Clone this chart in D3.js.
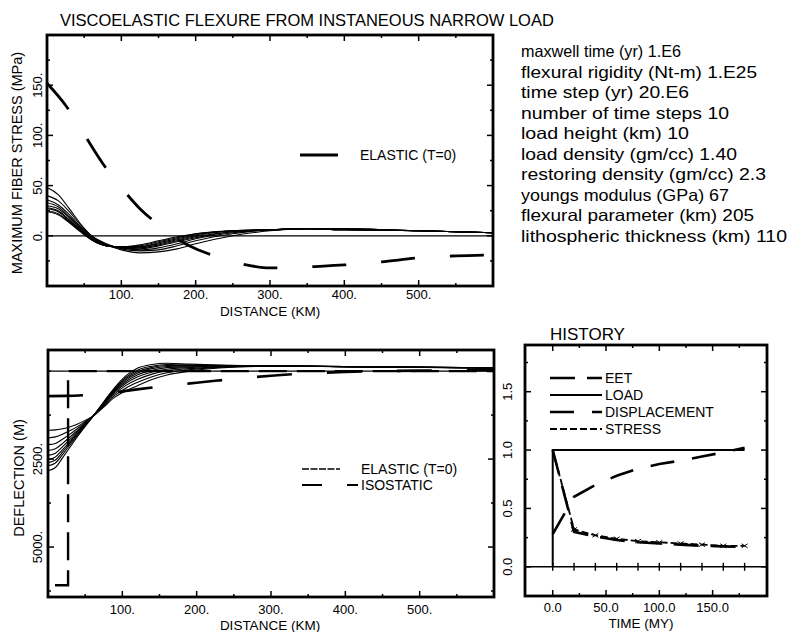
<!DOCTYPE html>
<html>
<head>
<meta charset="utf-8">
<script src="https://cdn.jsdelivr.net/npm/d3@7"></script>
<style>
  body { margin: 0; background: #fff; }
  svg { display: block; }
  text { font-family: "Liberation Sans", Arial, Helvetica, sans-serif; fill: #000; }
</style>
</head>
<body>
<svg id="fig" width="792" height="632"></svg>
<script>
// ---------------- data ----------------
// Maximum fiber stress (MPa) vs distance (km)
const stressDist = [0, 15, 30, 45, 60, 80, 100, 125, 150, 175, 200, 250, 300, 350, 400, 500, 600];
const stressT20  = [48, 41, 27, 12, 0, -9, -14, -17, -16, -13, -8, 0, 5, 7, 7, 5, 3];
const stressT40  = [40, 35, 24, 11, 0, -8, -13, -15, -14, -10, -5, 2, 6, 7, 7, 5, 3];
const stressT60  = [36, 31, 21, 9, -1, -9, -12, -14, -12, -8, -3, 3, 6, 7, 7, 5, 3];
const stressT80  = [33, 29, 19, 8, -2, -9, -12, -13, -10, -6, -2, 4, 6, 7, 7, 5, 3];
const stressT100 = [30, 27, 18, 7, -3, -9, -12, -12, -9, -5, -1, 4, 6, 7, 6, 5, 3];
const stressT120 = [28, 25, 16, 6, -3, -10, -12, -11, -8, -4, 0, 5, 6, 7, 6, 5, 3];
const stressT140 = [27, 24, 15, 5, -4, -10, -11, -11, -7, -3, 1, 5, 6, 7, 6, 5, 3];
const stressT160 = [25, 22, 14, 5, -4, -10, -11, -10, -6, -2, 2, 5, 6, 7, 6, 5, 3];
const stressT180 = [24, 21, 13, 4, -4, -10, -11, -9, -5, -1, 2, 5, 6, 7, 6, 5, 3];

const elasticStressDist = [0, 25, 50, 75, 100, 125, 150, 175, 200, 225, 250, 275, 300, 325, 350, 400, 450, 500, 550, 600];
const elasticStress     = [152, 130, 101, 72, 48, 27, 11, -3, -13, -20, -26, -30, -32, -32, -31, -29, -26, -22, -20, -19];

// Deflection (m, positive down) vs distance (km)
const deflDist  = [0, 10, 20, 30, 40, 50, 60, 75, 90, 105, 120, 140, 160, 190, 230, 300, 400, 600];
const deflT20   = [1680, 1670, 1640, 1580, 1500, 1400, 1290, 1020, 740, 560, 420, 240, 110, 0, -90, -140, -130, -95];
const deflT40   = [1900, 1870, 1790, 1690, 1570, 1430, 1290, 990, 690, 480, 325, 160, 45, -40, -105, -140, -130, -95];
const deflT60   = [2090, 2055, 1930, 1785, 1625, 1460, 1295, 965, 640, 405, 240, 85, -10, -70, -120, -143, -128, -93];
const deflT80   = [2255, 2205, 2045, 1865, 1675, 1485, 1295, 945, 600, 345, 170, 25, -55, -100, -130, -145, -128, -93];
const deflT100  = [2395, 2335, 2140, 1935, 1715, 1505, 1295, 925, 565, 295, 110, -25, -100, -125, -140, -146, -127, -92];
const deflT120  = [2510, 2440, 2225, 1990, 1750, 1520, 1297, 910, 540, 250, 60, -70, -130, -144, -148, -147, -126, -91];
const deflT140  = [2600, 2525, 2290, 2035, 1780, 1535, 1298, 900, 515, 215, 20, -105, -160, -160, -154, -148, -126, -91];
const deflT160  = [2690, 2610, 2360, 2085, 1810, 1550, 1300, 885, 490, 175, -25, -140, -190, -178, -162, -149, -126, -91];
const deflT180  = [2830, 2740, 2450, 2150, 1850, 1570, 1300, 870, 460, 130, -80, -190, -225, -200, -170, -150, -125, -90];

const elasticDeflDist = [0, 25, 50, 75, 100, 125, 150, 175, 200, 225, 250, 275, 300, 350, 400, 450, 500, 550, 600];
const elasticDefl     = [710, 705, 680, 635, 575, 505, 445, 385, 330, 275, 225, 175, 130, 65, 25, 0, -15, -25, -30];

const isostaticDist = [0, 27, 27, 600];
const isostaticDefl = [6087, 6087, 0, 0];

// History (normalised) vs time (My)
const historyTime   = [0, 20, 40, 60, 80, 100, 120, 140, 160, 180];
const historyEET    = [1.0, 0.30, 0.26, 0.23, 0.21, 0.20, 0.19, 0.18, 0.175, 0.17];
const historyDispl  = [0.28, 0.60, 0.70, 0.78, 0.84, 0.88, 0.91, 0.945, 0.98, 1.02];
const historyStress = [1.0, 0.32, 0.27, 0.24, 0.22, 0.21, 0.20, 0.19, 0.18, 0.18];
const loadTime      = [0, 0, 180];
const loadValue     = [0, 1, 1];

// Tick labels
const distTicks        = [100, 200, 300, 400, 500];
const distTickLabels   = ["100.", "200.", "300.", "400.", "500."];
const stressTicks      = [0, 50, 100, 150];
const stressTickLabels = ["0.", "50.", "100.", "150."];
const deflTicks        = [2500, 5000];
const deflTickLabels   = ["2500.", "5000."];
const timeTicks        = [0, 50, 100, 150];
const timeTickLabels   = ["0.0", "50.0", "100.0", "150.0"];
const histTicks        = [0, 0.5, 1.0, 1.5];
const histTickLabels   = ["0.0", "0.5", "1.0", "1.5"];

const paramLines = [
  "maxwell time (yr) 1.E6",
  "flexural rigidity (Nt-m) 1.E25",
  "time step (yr) 20.E6",
  "number of time steps 10",
  "load height (km) 10",
  "load density (gm/cc) 1.40",
  "restoring density (gm/cc) 2.3",
  "youngs modulus (GPa) 67",
  "flexural parameter (km) 205",
  "lithospheric thickness (km) 110"
];
// printed width of each parameter line (px)
const paramWidths = [160, 236, 168, 208, 168, 216, 245, 208, 233, 266];

// ---------------- drawing ----------------
const svg = d3.select("#fig");
svg.append("rect").attr("width", 792).attr("height", 632).attr("fill", "#fff");
const plotLayer = svg.append("g");
const frameLayer = svg.append("g");

function zip(xs, ys) { return xs.map((d, i) => [d, ys[i]]); }
function steps(a, b, s) { return d3.range(a, b + s / 2, s); }

// Framed panel: border plus inward ticks on all four sides (positions from the scales)
function drawFrame(xs, ys, xMajor, xMinor, yMajor, yMinor) {
  const f = frameLayer.append("g");
  const xl = d3.min(xs.range()), xr = d3.max(xs.range());
  const yt = d3.min(ys.range()), yb = d3.max(ys.range());
  const tick = (x1, y1, x2, y2) => f.append("line")
    .attr("x1", x1).attr("y1", y1).attr("x2", x2).attr("y2", y2)
    .attr("stroke", "#000").attr("stroke-width", 1.5);
  [[xMajor, 6], [xMinor, 3]].forEach(([vals, len]) => vals.forEach(v => {
    tick(xs(v), yb, xs(v), yb - len);
    tick(xs(v), yt, xs(v), yt + len);
  }));
  [[yMajor, 6], [yMinor, 3]].forEach(([vals, len]) => vals.forEach(v => {
    tick(xl, ys(v), xl + len, ys(v));
    tick(xr, ys(v), xr - len, ys(v));
  }));
  f.append("rect")
    .attr("x", xl).attr("y", yt).attr("width", xr - xl).attr("height", yb - yt)
    .attr("fill", "none").attr("stroke", "#000").attr("stroke-width", 2.8);
}

function yLabelsRotated(g, y, vals, labels, bx, size) {
  vals.forEach((v, i) => {
    g.append("text")
      .attr("transform", `translate(${bx},${y(v)}) rotate(-90)`)
      .attr("text-anchor", "middle").attr("font-size", size)
      .text(labels[i]);
  });
}
function xLabels(g, x, vals, labels, by, size) {
  vals.forEach((v, i) => {
    g.append("text").attr("x", x(v)).attr("y", by)
      .attr("text-anchor", "middle").attr("font-size", size).text(labels[i]);
  });
}

// ===== Title =====
plotLayer.append("text").attr("x", 60).attr("y", 26).attr("font-size", 16.5)
  .text("VISCOELASTIC FLEXURE FROM INSTANEOUS NARROW LOAD");

// ===== Panel 1: maximum fiber stress =====
{
  const g = plotLayer.append("g");
  const x = d3.scaleLinear().domain([0, 600]).range([47, 493]);
  const y = d3.scaleLinear().domain([-50, 200]).range([286, 35]);

  const curve = d3.line().x(d => x(d[0])).y(d => y(d[1])).curve(d3.curveMonotoneX);
  g.append("path").attr("d", curve([[0, 0], [600, 0]]))
    .attr("stroke", "#000").attr("stroke-width", 1.3).attr("fill", "none");
  [stressT20, stressT40, stressT60, stressT80, stressT100, stressT120, stressT140, stressT160, stressT180]
    .forEach(s => {
      g.append("path").attr("d", curve(zip(stressDist, s)))
        .attr("fill", "none").attr("stroke", "#000").attr("stroke-width", 1.1);
    });
  g.append("path").attr("d", curve(zip(elasticStressDist, elasticStress)))
    .attr("fill", "none").attr("stroke", "#000").attr("stroke-width", 2.8)
    .attr("stroke-dasharray", "34,35");

  drawFrame(x, y, distTicks, steps(50, 550, 100), stressTicks,
            steps(-50, 200, 25).filter(v => !stressTicks.includes(v)));
  yLabelsRotated(g, y, stressTicks, stressTickLabels, 42, 13);
  xLabels(g, x, distTicks, distTickLabels, 299, 13);

  g.append("text").attr("x", 270).attr("y", 316).attr("text-anchor", "middle")
    .attr("font-size", 13.5).text("DISTANCE (KM)");
  g.append("text").attr("transform", "translate(22,163) rotate(-90)")
    .attr("text-anchor", "middle").attr("font-size", 14.5).text("MAXIMUM FIBER STRESS (MPa)");

  g.append("line").attr("x1", 300).attr("x2", 338).attr("y1", 155).attr("y2", 155)
    .attr("stroke", "#000").attr("stroke-width", 2.8);
  g.append("text").attr("x", 360).attr("y", 160).attr("font-size", 14).text("ELASTIC (T=0)");
}

// ===== Parameter block =====
paramLines.forEach((t, i) => {
  plotLayer.append("text").attr("x", 521).attr("y", 57 + i * 20.5).attr("font-size", 16.5)
    .attr("textLength", paramWidths[i]).attr("lengthAdjust", "spacingAndGlyphs").text(t);
});

// ===== Panel 2: deflection =====
{
  const g = plotLayer.append("g");
  const x = d3.scaleLinear().domain([0, 600]).range([48, 494]);
  const y = d3.scaleLinear().domain([-600, 6420]).range([350, 597]);

  const curve = d3.line().x(d => x(d[0])).y(d => y(d[1])).curve(d3.curveMonotoneX);
  const poly = d3.line().x(d => x(d[0])).y(d => y(d[1]));

  g.append("path").attr("d", poly([[0, 0], [600, 0]]))
    .attr("stroke", "#000").attr("stroke-width", 1.3).attr("fill", "none");
  [deflT20, deflT40, deflT60, deflT80, deflT100, deflT120, deflT140, deflT160, deflT180]
    .forEach(s => {
      g.append("path").attr("d", curve(zip(deflDist, s)))
        .attr("fill", "none").attr("stroke", "#000").attr("stroke-width", 1.1);
    });
  g.append("path").attr("d", curve(zip(elasticDeflDist, elasticDefl)))
    .attr("fill", "none").attr("stroke", "#000").attr("stroke-width", 2.6)
    .attr("stroke-dasharray", "35,35");
  g.append("path").attr("d", poly(zip(isostaticDist, isostaticDefl)))
    .attr("fill", "none").attr("stroke", "#000").attr("stroke-width", 2.4)
    .attr("stroke-dasharray", "28,10").attr("stroke-dashoffset", 31);

  drawFrame(x, y, distTicks, steps(50, 550, 100), deflTicks,
            steps(0, 6250, 1250).filter(v => !deflTicks.includes(v)));
  yLabelsRotated(g, y, deflTicks, deflTickLabels, 42, 13);
  xLabels(g, x, distTicks, distTickLabels, 614, 13);

  g.append("text").attr("x", 270).attr("y", 630).attr("text-anchor", "middle")
    .attr("font-size", 13.5).text("DISTANCE (KM)");
  g.append("text").attr("transform", "translate(24,478) rotate(-90)")
    .attr("text-anchor", "middle").attr("font-size", 14.5).text("DEFLECTION (M)");

  g.append("line").attr("x1", 302).attr("x2", 340).attr("y1", 469).attr("y2", 469)
    .attr("stroke", "#000").attr("stroke-width", 1.6).attr("stroke-dasharray", "7,1.5");
  g.append("text").attr("x", 361).attr("y", 474).attr("font-size", 14).text("ELASTIC (T=0)");
  g.append("line").attr("x1", 302).attr("x2", 358).attr("y1", 485).attr("y2", 485)
    .attr("stroke", "#000").attr("stroke-width", 2.2).attr("stroke-dasharray", "20,25,11,0");
  g.append("text").attr("x", 361).attr("y", 490).attr("font-size", 14).text("ISOSTATIC");
}

// ===== Panel 3: history =====
{
  const g = plotLayer.append("g");
  const x = d3.scaleLinear().domain([-26, 201]).range([525, 767]);
  const y = d3.scaleLinear().domain([-0.25, 1.9]).range([596, 345]);
  const poly = d3.line().x(d => x(d[0])).y(d => y(d[1]));

  // zero line with a mark at every time step
  g.append("path").attr("d", poly([[-26, 0], [201, 0]]))
    .attr("stroke", "#000").attr("stroke-width", 1.4).attr("fill", "none");
  historyTime.forEach(t => {
    g.append("line").attr("x1", x(t)).attr("x2", x(t))
      .attr("y1", y(0) - 4).attr("y2", y(0) + 4)
      .attr("stroke", "#000").attr("stroke-width", 1.4);
  });

  g.append("path").attr("d", poly(zip(loadTime, loadValue)))
    .attr("fill", "none").attr("stroke", "#000").attr("stroke-width", 2);
  g.append("path").attr("d", poly(zip(historyTime, historyEET)))
    .attr("fill", "none").attr("stroke", "#000").attr("stroke-width", 2.6)
    .attr("stroke-dasharray", "25,12");
  g.append("path").attr("d", poly(zip(historyTime, historyDispl)))
    .attr("fill", "none").attr("stroke", "#000").attr("stroke-width", 2.6)
    .attr("stroke-dasharray", "24,18");
  g.append("path").attr("d", poly(zip(historyTime, historyStress)))
    .attr("fill", "none").attr("stroke", "#000").attr("stroke-width", 1.8)
    .attr("stroke-dasharray", "7,3");
  zip(historyTime, historyStress).slice(1).forEach(d => {
    const cx = x(d[0]), cy = y(d[1]);
    g.append("path")
      .attr("d", `M${cx - 3},${cy - 2}L${cx + 3},${cy + 2}M${cx - 3},${cy + 2}L${cx + 3},${cy - 2}`)
      .attr("fill", "none").attr("stroke", "#000").attr("stroke-width", 1);
  });

  drawFrame(x, y, timeTicks, steps(25, 175, 50), histTicks, steps(-0.25, 1.75, 0.5));
  yLabelsRotated(g, y, histTicks, histTickLabels, 512, 13);
  xLabels(g, x, timeTicks, timeTickLabels, 612, 13);
  g.append("text").attr("x", 641).attr("y", 628).attr("text-anchor", "middle")
    .attr("font-size", 13.5).text("TIME (MY)");

  g.append("text").attr("x", 550).attr("y", 340).attr("font-size", 17).text("HISTORY");

  const lx0 = 550, lx1 = 602, tx = 605;
  const rows = [
    { name: "EET", y: 378, w: 2.6, dash: "25,12" },
    { name: "LOAD", y: 395, w: 2, dash: null },
    { name: "DISPLACEMENT", y: 412, w: 2.6, dash: "24,18" },
    { name: "STRESS", y: 429, w: 1.8, dash: "7,3" }
  ];
  rows.forEach(r => {
    const ln = g.append("line").attr("x1", lx0).attr("x2", lx1).attr("y1", r.y).attr("y2", r.y)
      .attr("stroke", "#000").attr("stroke-width", r.w);
    if (r.dash) ln.attr("stroke-dasharray", r.dash);
    g.append("text").attr("x", tx).attr("y", r.y + 5).attr("font-size", 14).text(r.name);
  });
}
</script>
</body>
</html>
